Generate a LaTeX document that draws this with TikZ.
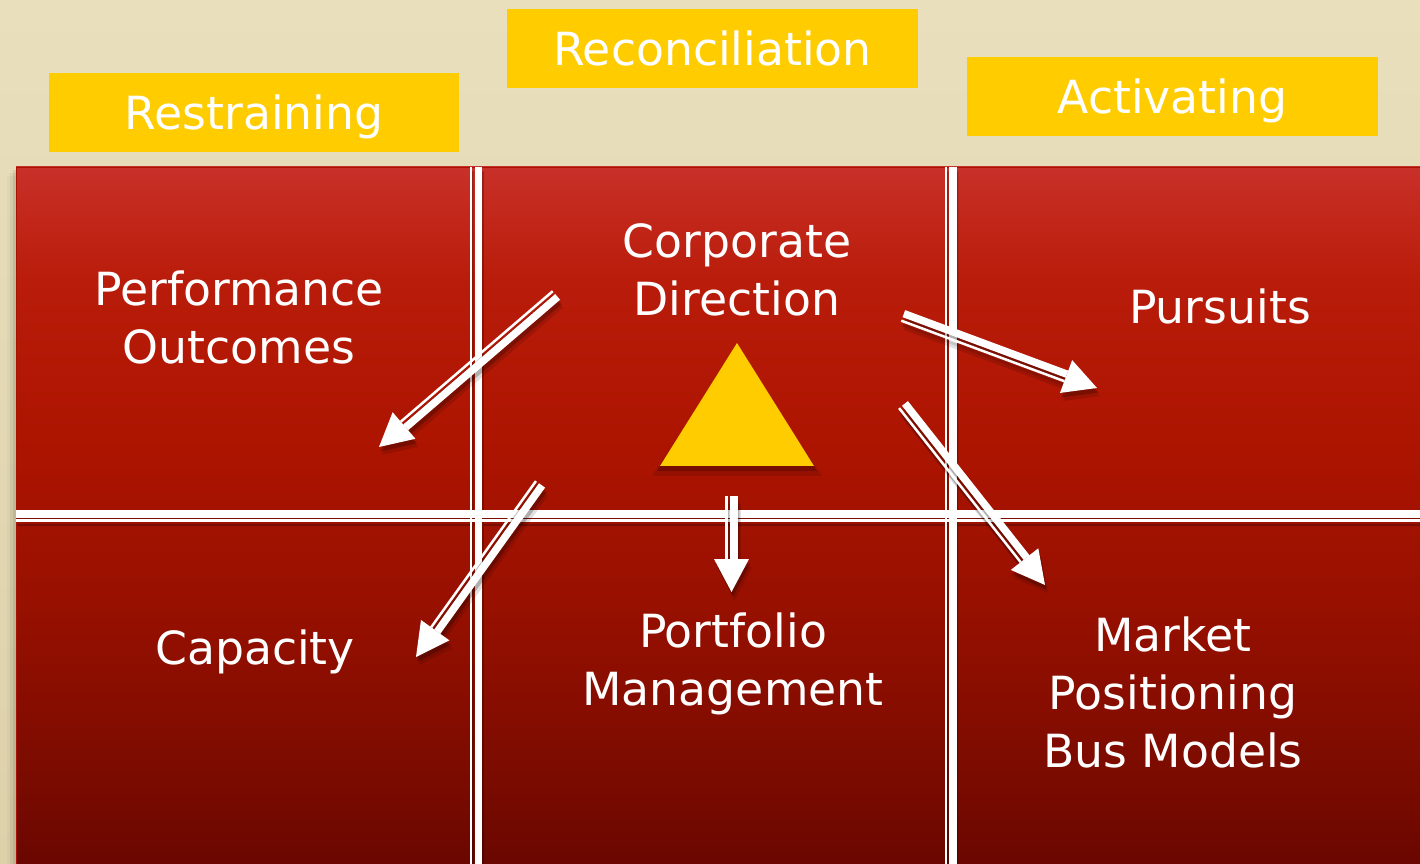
\documentclass[tikz,border=0pt]{standalone}
\usepackage{fontspec}
\setmainfont{DejaVu Sans}
\usetikzlibrary{calc}

\definecolor{sandtop}{HTML}{E9DFBD}
\definecolor{sandbot}{HTML}{DDD1AA}
\definecolor{gold}{HTML}{FFCC00}
\definecolor{boardedge}{HTML}{A81200}
\definecolor{rA}{HTML}{C9302A}
\definecolor{rB}{HTML}{C42A1E}
\definecolor{rC}{HTML}{B91C0A}
\definecolor{rD}{HTML}{AC1400}
\definecolor{rE}{HTML}{981000}
\definecolor{rF}{HTML}{7A0B00}
\definecolor{rG}{HTML}{6A0700}

\pgfdeclareverticalshading{board}{100bp}{color(0bp)=(rG); color(25bp)=(rG);
  color(31bp)=(rF); color(43.9bp)=(rE); color(54.7bp)=(rD); color(66.9bp)=(rC);
  color(72.6bp)=(rB); color(75bp)=(rA); color(100bp)=(rA)}

\tikzset{
  tag/.style={fill=gold, text=white, minimum width=8.22cm, minimum height=1.58cm,
    inner sep=0pt, font=\fontsize{26}{33}\selectfont, text height=19pt, text depth=0pt},
  cell/.style={text=white, align=center, font=\fontsize{26}{33}\selectfont},
  rule thick/.style={line width=0.15cm},
  rule thin/.style={line width=0.045cm},
  casting/.style={transparency group, opacity=#1, black,
    transform canvas={shift={(0.03cm,-0.09cm)}}},
  casting/.default=0.3,
  soft/.style={transparency group, opacity=0.12, black,
    transform canvas={shift={(0.06cm,-0.16cm)}}},
}

% arrow with a thick shaft, a thin side line and a solid head
\newcommand\shaftarrow[2]{%
  \coordinate (hb) at ($(#2)!0.66cm!(#1)$);
  \draw[line width=0.15cm] ($(#1)!0.05cm!90:(#2)$) -- ($(hb)!0.05cm!-90:(#1)$);
  \draw[line width=0.05cm] ($(#1)!0.1cm!-90:(#2)$) -- ($(hb)!0.1cm!90:(#1)$);
  \fill (#2) -- ($(hb)!0.35cm!90:(#2)$) -- ($(hb)!0.35cm!-90:(#2)$) -- cycle;
}

% the grid lines of the board
\newcommand\boardrules{%
  \draw[rule thick] (16,514) -- (1420,514);
  \draw[rule thin] (16,520.5) -- (1420,520.5);
  \draw[rule thin] (471,167) -- (471,864);
  \draw[rule thick] (478.5,167) -- (478.5,864);
  \draw[rule thin] (946,167) -- (946,864);
  \draw[rule thick] (953,167) -- (953,864);
}

\begin{document}
\begin{tikzpicture}[x=0.02cm, y=-0.02cm]
    \useasboundingbox (0,0) rectangle (1420,864);
    \fill[top color=sandtop, bottom color=sandbot] (0,0) rectangle (1420,864);

    % headings
    \node[tag] (restraining) at (254,112.5) {Restraining};
    \node[tag] (reconciliation) at (712.5,48.5) {Reconciliation};
    \node[tag] (activating) at (1172.5,96.5) {Activating};

    % board
    \foreach \o/\a in {9/0.03,6/0.05,3/0.07}
        \fill[black, opacity=\a] (16-\o,167+\o) rectangle (1420,864);
    \shade[shading=board] (16,167) rectangle (1420,864);
    \draw[boardedge, line width=0.03cm] (1421,167.5) -- (16.5,167.5) -- (16.5,865);

    \begin{scope}[casting=0.25]
        \boardrules
    \end{scope}
    \begin{scope}[white]
        \boardrules
    \end{scope}

    % triangle
    \fill[black, opacity=0.12] (652,476) -- (737,352) -- (822,476) -- cycle;
    \fill[black, opacity=0.2] (657,471) -- (737,348) -- (817,471) -- cycle;
    \fill[gold] (660,466) -- (737,343) -- (814,466) -- cycle;

    % arrow ends
    \coordinate (s1) at (556,295);
    \coordinate (e1) at (379,447);
    \coordinate (s2) at (540,484);
    \coordinate (e2) at (416,657);
    \coordinate (s3) at (731.5,496);
    \coordinate (e3) at (731.5,592);
    \coordinate (s4) at (903,316);
    \coordinate (e4) at (1097,388);
    \coordinate (s5) at (903,405);
    \coordinate (e5) at (1045,585);

    \begin{scope}[soft]
        \foreach \i in {1,...,5} {\shaftarrow{s\i}{e\i}}
    \end{scope}
    \begin{scope}[casting=0.22]
        \foreach \i in {1,...,5} {\shaftarrow{s\i}{e\i}}
    \end{scope}
    \begin{scope}[white]
        \foreach \i in {1,...,5} {\shaftarrow{s\i}{e\i}}
    \end{scope}

    % cells
    \node[cell] (outcomes) at (239,317) {Performance\\Outcomes};
    \node[cell] (direction) at (737,270) {Corporate\\Direction};
    \node[cell] (pursuits) at (1220,306) {Pursuits};
    \node[cell] (capacity) at (255,652) {Capacity};
    \node[cell] (portfolio) at (733,664) {Portfolio\\Management};
    \node[cell] (market) at (1173,692) {Market\\Positioning\\Bus Models};
\end{tikzpicture}
\end{document}
